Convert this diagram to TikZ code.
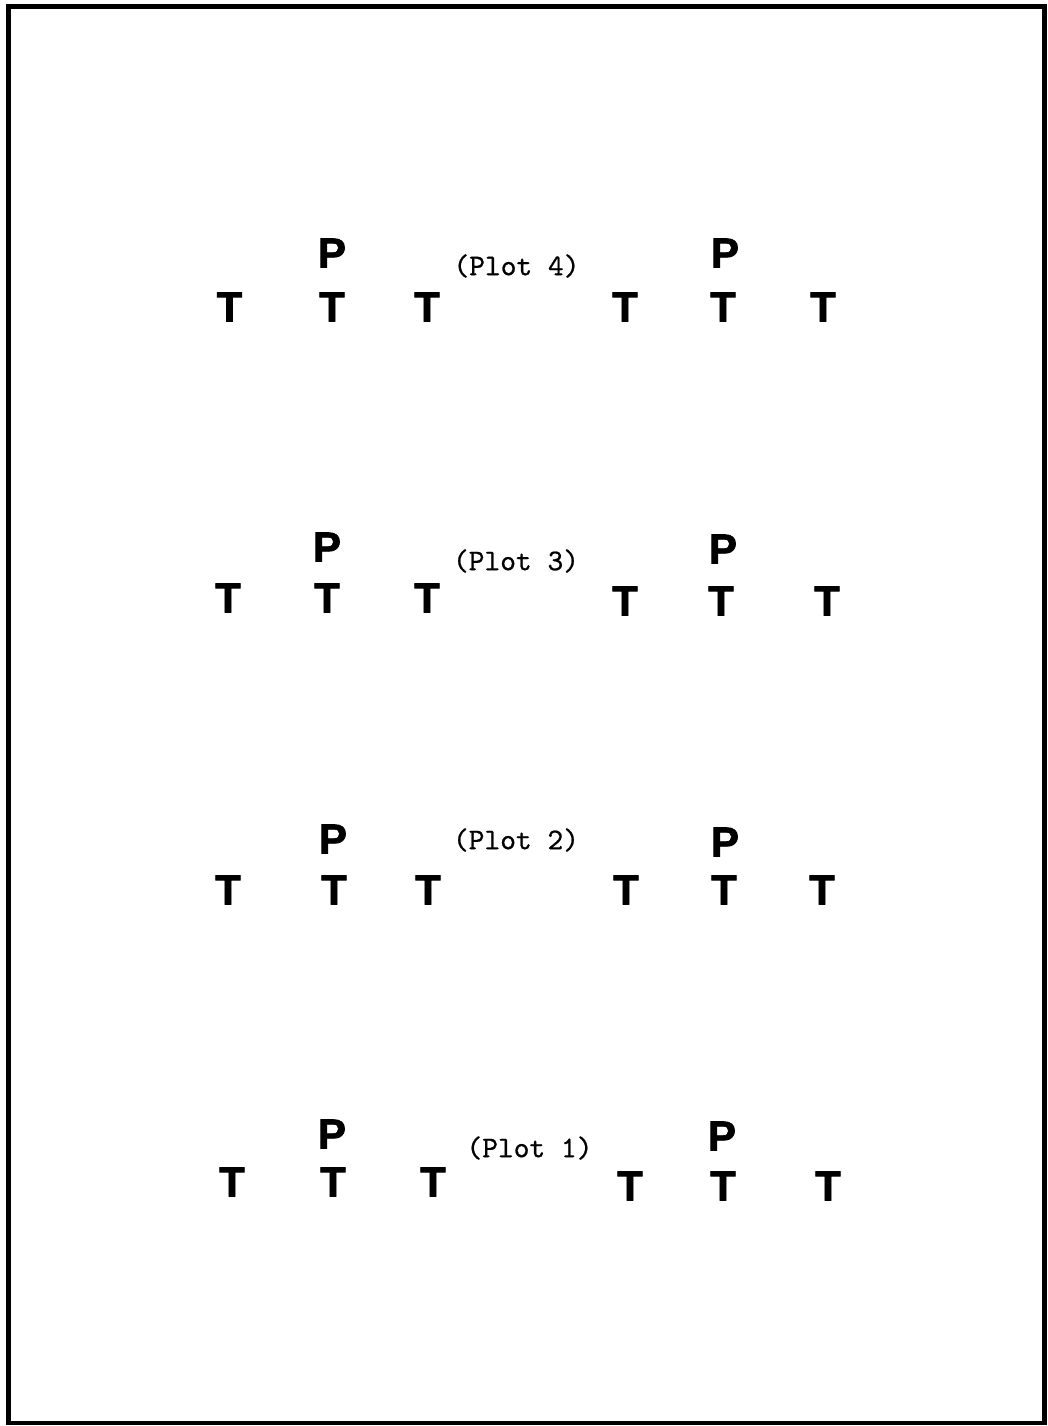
\documentclass[tikz,border=0pt]{standalone}
\usepackage{fontspec}
\newfontfamily\heavyfont{Liberation Sans}[BoldFont={Liberation Sans Bold}, BoldFeatures={FakeBold=1.6}]
\newfontfamily\labfont{lmmono10-regular.otf}[FakeBold=0.7]
\begin{document}
\begin{tikzpicture}[x=1pt,y=-1pt,
  letter/.style={inner sep=0pt, font=\fontsize{42}{42}\selectfont\heavyfont\bfseries},
  plotlabel/.style={inner sep=0pt, font=\fontsize{30}{30}\selectfont\labfont}]
\useasboundingbox (0,0) rectangle (1048,1426);
\draw[line width=4.5pt] (8.5,6.5) rectangle (1044.5,1423);
% Plot 4
\node[letter] (p4a) at (332,253) {P};
\node[letter] (p4b) at (725,253) {P};
\node[letter] (t4a) at (229.5,307) {T};
\node[letter] (t4b) at (332,307) {T};
\node[letter] (t4c) at (427,307) {T};
\node[letter] (t4d) at (625,307) {T};
\node[letter] (t4e) at (723,307) {T};
\node[letter] (t4f) at (823,307) {T};
\node[plotlabel] (l4) at (516.5,266) {(Plot 4)};
% Plot 3
\node[letter] (p3a) at (327,547) {P};
\node[letter] (p3b) at (723,549) {P};
\node[letter] (t3a) at (228,598) {T};
\node[letter] (t3b) at (327,598) {T};
\node[letter] (t3c) at (427,598) {T};
\node[letter] (t3d) at (625,601) {T};
\node[letter] (t3e) at (721,601) {T};
\node[letter] (t3f) at (827,601) {T};
\node[plotlabel] (l3) at (516,561) {(Plot 3)};
% Plot 2
\node[letter] (p2a) at (333,839) {P};
\node[letter] (p2b) at (725,842) {P};
\node[letter] (t2a) at (228,890) {T};
\node[letter] (t2b) at (334,890) {T};
\node[letter] (t2c) at (428,890) {T};
\node[letter] (t2d) at (626,890) {T};
\node[letter] (t2e) at (724,890) {T};
\node[letter] (t2f) at (822,890) {T};
\node[plotlabel] (l2) at (516,840) {(Plot 2)};
% Plot 1
\node[letter] (p1a) at (332,1134) {P};
\node[letter] (p1b) at (722,1136) {P};
\node[letter] (t1a) at (232,1182) {T};
\node[letter] (t1b) at (333,1182) {T};
\node[letter] (t1c) at (433,1182) {T};
\node[letter] (t1d) at (630,1186) {T};
\node[letter] (t1e) at (723,1186) {T};
\node[letter] (t1f) at (828,1186) {T};
\node[plotlabel] (l1) at (529.5,1148) {(Plot 1)};
\end{tikzpicture}
\end{document}
